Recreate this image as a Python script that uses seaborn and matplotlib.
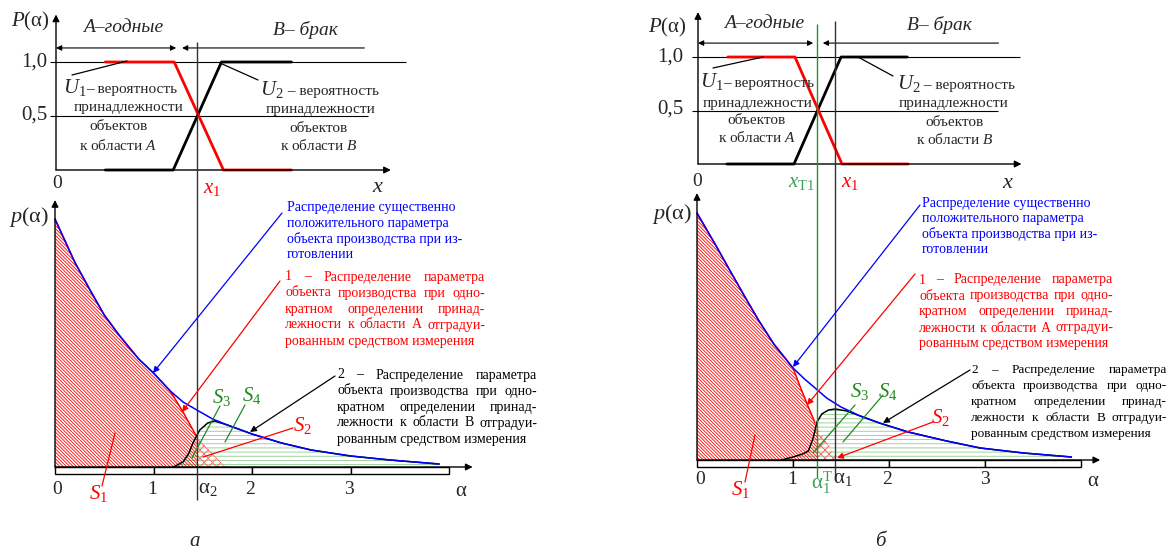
import numpy as np
import matplotlib
matplotlib.use("Agg")
import matplotlib.pyplot as plt
import seaborn as sns

# ---------- данные, рисунок а ----------
left_blue_a = [0, 0.2, 0.35, 0.5, 0.65, 0.85, 1.0, 1.17, 1.3, 1.44, 1.6, 1.75, 2.0, 2.3, 2.6, 3.0, 3.4, 3.9]
left_blue_p = [2.48, 2.05, 1.78, 1.52, 1.32, 1.08, 0.94, 0.76, 0.65, 0.57, 0.48, 0.42, 0.33, 0.24, 0.17, 0.11, 0.07, 0.03]
left_red_a = [0, 0.2, 0.35, 0.5, 0.65, 0.85, 1.0, 1.17, 1.3, 1.44, 1.73]
left_red_p = [2.48, 2.05, 1.78, 1.52, 1.32, 1.08, 0.94, 0.76, 0.55, 0.30, 0.0]
left_black_a = [1.2, 1.3, 1.36, 1.4, 1.47, 1.55, 1.62, 1.75, 2.0, 2.3, 2.6, 3.0, 3.4, 3.9]
left_black_p = [0.0, 0.05, 0.14, 0.24, 0.37, 0.44, 0.46, 0.42, 0.33, 0.24, 0.17, 0.11, 0.07, 0.03]
left_alpha2 = 1.44
left_u1_x = [0.5, 1.2, 1.70, 2.39]
left_u2_x = [0.5, 1.19, 1.68, 2.39]

# ---------- данные, рисунок б ----------
right_blue_a = [0, 0.2, 0.34, 0.5, 0.64, 0.8, 1.0, 1.12, 1.23, 1.35, 1.5, 1.7, 1.9, 2.2, 2.6, 2.95, 3.4, 3.9]
right_blue_p = [2.47, 2.14, 1.90, 1.63, 1.40, 1.16, 0.92, 0.81, 0.72, 0.62, 0.53, 0.44, 0.37, 0.28, 0.19, 0.12, 0.07, 0.03]
right_red_a = [0, 0.2, 0.34, 0.5, 0.64, 0.8, 1.0, 1.08, 1.16, 1.23, 1.25, 1.47]
right_red_p = [2.47, 2.14, 1.90, 1.63, 1.40, 1.16, 0.92, 0.72, 0.53, 0.37, 0.33, 0.0]
right_black_a = [0.88, 1.0, 1.1, 1.16, 1.21, 1.25, 1.3, 1.37, 1.44, 1.56, 1.7, 1.9, 2.2, 2.6, 2.95, 3.4, 3.9]
right_black_p = [0.0, 0.03, 0.06, 0.09, 0.22, 0.38, 0.46, 0.50, 0.51, 0.49, 0.44, 0.37, 0.28, 0.19, 0.12, 0.07, 0.03]
right_alpha_t1 = 1.25
right_alpha1 = 1.44
right_u1_x = [0.31, 1.01, 1.5, 2.19]
right_u2_x = [0.3, 1.0, 1.49, 2.18]

u1_level = [1, 1, 0, 0]
u2_level = [0, 0, 1, 1]
scale_ticks = [0, 1, 2, 3, 4]

blue_text = ["Распределение существенно", "положительного параметра",
             "объекта производства при из-", "готовлении"]
red_text = ["1 – Распределение параметра", "объекта производства при одно-",
            "кратном определении принад-", "лежности к области А отградуи-",
            "рованным средством измерения"]
black_text = ["2 – Распределение параметра", "объекта производства при одно-",
              "кратном определении принад-", "лежности к области В отградуи-",
              "рованным средством измерения"]

RED = "#ff0000"
BLUE = "#0000ff"
GREEN = "#1e8c1e"
GREEN_T = "#3a9f5a"
HATCH_GREEN = "#8fcc8f"

sns.set_style("white")
plt.rcParams["font.family"] = ["Liberation Serif", "DejaVu Serif"]
plt.rcParams["mathtext.fontset"] = "custom"
plt.rcParams["mathtext.rm"] = "Liberation Serif"
plt.rcParams["mathtext.it"] = "Liberation Serif:italic"
plt.rcParams["hatch.linewidth"] = 0.6

W, H = 1168, 555
fig = plt.figure(figsize=(W / 100, H / 100), dpi=100)


def make_ax(box, origin, scale):
    # box в пикселях (лево, верх, право, низ), origin - пиксель точки (0, 0)
    L, T, R, B = box
    ax = fig.add_axes([L / W, 1 - B / H, (R - L) / W, (B - T) / H])
    x0, y0 = origin
    sx, sy = scale
    ax.set_xlim((L - x0) / sx, (R - x0) / sx)
    ax.set_ylim((y0 - B) / sy, (y0 - T) / sy)
    ax.axis("off")
    return ax


def fx(x, y):
    return (x / W, 1 - y / H)


def put(x, y, s, size=14, **kw):
    kw.setdefault("ha", "center")
    kw.setdefault("va", "center")
    return fig.text(x / W, 1 - y / H, s, fontsize=size, **kw)


def seg(p0, p1, color, head=False):
    style = "-|>" if head else "-"
    fig.add_artist(matplotlib.patches.FancyArrowPatch(
        fx(*p0), fx(*p1), transform=fig.transFigure, arrowstyle=style,
        color=color, lw=0.9, mutation_scale=9, shrinkA=0, shrinkB=0))


def paragraph(x, y, lines, color, width=None, step=16, size=10):
    r = fig.canvas.get_renderer()
    for i, line in enumerate(lines):
        yy = y + i * step
        words = line.split()
        if width is None or i == len(lines) - 1:
            put(x, yy, line, size=size, ha="left", color=color)
            continue
        ts = [put(0, yy, w_, size=size, ha="left", color=color) for w_ in words]
        ws = [t.get_window_extent(r).width for t in ts]
        gap = (width - sum(ws)) / (len(words) - 1)
        cx = x
        for t, w_ in zip(ts, ws):
            t.set_x(cx / W)
            cx += w_ + gap


def axis_arrow(ax, start, end):
    ax.annotate("", xy=end, xytext=start,
                arrowprops=dict(arrowstyle="-|>", color="black", lw=1.0,
                                mutation_scale=10, shrinkA=0, shrinkB=0))


def top_panel(ax, u1_x, u2_x, one_end, half_end, x_end, y_end, span_a, span_b, span_end):
    ax.hlines(1.0, -0.06, one_end, color="black", lw=0.8)
    ax.hlines(0.5, -0.06, half_end, color="black", lw=0.8)
    axis_arrow(ax, (0, 0), (x_end, 0))
    axis_arrow(ax, (0, 0), (0, y_end))
    ax.annotate("", xy=(0, 1.13), xytext=(span_a, 1.13),
                arrowprops=dict(arrowstyle="<|-|>", color="black", lw=0.8,
                                mutation_scale=8, shrinkA=0, shrinkB=0))
    ax.annotate("", xy=(span_b, 1.13), xytext=(span_end, 1.13),
                arrowprops=dict(arrowstyle="-|>", color="black", lw=0.8,
                                mutation_scale=8, shrinkA=0, shrinkB=0))
    sns.lineplot(x=u2_x, y=u2_level, ax=ax, color="black", lw=2.0, sort=False, estimator=None)
    sns.lineplot(x=u1_x, y=u1_level, ax=ax, color=RED, lw=2.0, sort=False, estimator=None)


def bottom_panel(ax, blue_a, blue_p, red_a, red_p, black_a, black_p, split, red_line_end, x_end):
    red_a = np.array(red_a)
    red_p = np.array(red_p)
    ax.fill_between(black_a, 0, black_p, facecolor="none", edgecolor=HATCH_GREEN,
                    hatch="----", lw=0)
    ax.fill_between(red_a, 0, red_p, where=red_a <= split, facecolor="none",
                    edgecolor=RED, hatch="\\" * 10, lw=0)
    ax.fill_between(red_a, 0, red_p, where=red_a >= split, facecolor="none",
                    edgecolor="#ff6060", hatch="xxxx", lw=0)
    ax.bar(scale_ticks[:-1], -0.065, width=1, align="edge", color="white",
           edgecolor="black", lw=1.0)
    axis_arrow(ax, (0, 0), (x_end, 0))
    axis_arrow(ax, (0, 0), (0, 2.67))
    keep = red_a <= red_line_end
    sns.lineplot(x=red_a[keep], y=red_p[keep], ax=ax, color=RED, lw=1.1, sort=False, estimator=None)
    sns.lineplot(x=black_a, y=black_p, ax=ax, color="black", lw=1.1, sort=False, estimator=None)
    sns.lineplot(x=blue_a, y=blue_p, ax=ax, color=BLUE, lw=1.1, sort=False, estimator=None)


# ================= рисунок а =================
ax_lt = make_ax((0, 0, 584, 190), (56, 170), (98.5, 108))
top_panel(ax_lt, left_u1_x, left_u2_x, 3.55, 3.17, 3.4, 1.44, 1.22, 1.28, 3.13)
ax_lb = make_ax((0, 190, 584, 555), (55, 467), (98.5, 100))
bottom_panel(ax_lb, left_blue_a, left_blue_p, left_red_a, left_red_p,
             left_black_a, left_black_p, left_alpha2, left_alpha2, 4.24)
ax_lb.vlines(left_alpha2, -0.33, 4.25, color="#333333", lw=1.0, clip_on=False)

put(30, 21, r"$P$(α)", 15)
put(123, 28, "A–годные", 14, style="italic")
put(305, 30, "B– брак", 14, style="italic")
put(47, 62, "1,0", 15, ha="right")
put(47, 115, "0,5", 15, ha="right")
put(57, 184, "0", 14)
put(378, 188, r"$x$", 16)
put(212, 188, r"$x_1$", 15, color=RED)
put(87, 87, r"$U_1$", 15, ha="right")
put(86, 89, "– вероятность", 11, ha="left")
put(129, 107, "принадлежности", 11)
put(119, 127, "объектов", 11)
put(118, 145, r"к области $A$", 11)
put(284, 89, r"$U_2$", 15, ha="right")
put(284, 91, " – вероятность", 11, ha="left")
put(321, 110, "принадлежности", 11)
put(319, 128, "объектов", 11)
put(319, 146, r"к области $B$", 11)
seg((72, 75), (127, 61), "black")
seg((220, 63), (258, 80), "black")

put(29, 217, r"$p$(α)", 16)
put(57, 489, "0", 14)
put(152, 489, "1", 14)
put(208, 488, r"$\mathrm{α}_2$", 15)
put(250, 489, "2", 14)
put(349, 489, "3", 14)
put(461, 491, "α", 15)
put(98, 494, r"$S_1$", 15, color=RED)
put(222, 398, r"$S_3$", 15, color=GREEN)
put(252, 395, r"$S_4$", 15, color=GREEN)
put(302, 425, r"$S_2$", 15, color=RED)
seg((115, 433), (102, 486), RED)
seg((220, 406), (192, 458), GREEN)
seg((245, 405), (225, 442), GREEN)
seg((293, 428), (203, 457), RED)
seg((282, 213), (153, 373), BLUE, head=True)
seg((280, 281), (182, 412), RED, head=True)
seg((335, 376), (250, 432), "black", head=True)
paragraph(287, 207, blue_text, BLUE)
paragraph(285, 277, red_text, RED, width=200)
paragraph(337, 375, black_text, "black", width=200)
put(195, 541, "а", 15, style="italic")

# ================= рисунок б =================
ax_rt = make_ax((584, 0, 1168, 190), (698, 164), (96, 107))
top_panel(ax_rt, right_u1_x, right_u2_x, 3.35, 3.13, 3.37, 1.42, 1.2, 1.3, 3.13)
ax_rb = make_ax((584, 190, 1168, 555), (697, 460), (96, 100))
bottom_panel(ax_rb, right_blue_a, right_blue_p, right_red_a, right_red_p,
             right_black_a, right_black_p, right_alpha_t1, 1.23, 4.2)
ax_rb.vlines(right_alpha_t1, -0.18, 4.36, color="#2e8b2e", lw=1.0, clip_on=False)
ax_rb.vlines(right_alpha1, -0.2, 4.39, color="#333333", lw=1.0, clip_on=False)

put(667, 27, r"$P$(α)", 15)
put(764, 23, "A–годные", 14, style="italic")
put(939, 25, "B– брак", 14, style="italic")
put(683, 57, "1,0", 15, ha="right")
put(683, 109, "0,5", 15, ha="right")
put(697, 182, "0", 14)
put(801, 183, r"$x_{\mathrm{T}1}$", 15, color=GREEN_T)
put(850, 183, r"$x_1$", 15, color=RED)
put(1008, 183, r"$x$", 16)
put(724, 81, r"$U_1$", 15, ha="right")
put(723, 83, "– вероятность", 11, ha="left")
put(758, 103, "принадлежности", 11)
put(757, 120, "объектов", 11)
put(757, 138, r"к области $A$", 11)
put(921, 84, r"$U_2$", 15, ha="right")
put(920, 86, " – вероятность", 11, ha="left")
put(954, 104, "принадлежности", 11)
put(954, 122, "объектов", 11)
put(955, 140, r"к области $B$", 11)
seg((713, 68), (763, 57), "black")
seg((858, 57), (893, 76), "black")

put(672, 214, r"$p$(α)", 16)
put(700, 480, "0", 14)
put(792, 480, "1", 14)
put(822, 483, r"$\mathrm{α}^{\mathrm{T}}_{1}$", 15, color=GREEN_T)
put(843, 478, r"$\mathrm{α}_1$", 15)
put(887, 480, "2", 14)
put(985, 480, "3", 14)
put(1093, 482, "α", 15)
put(740, 489, r"$S_1$", 15, color=RED)
put(860, 392, r"$S_3$", 15, color=GREEN)
put(888, 392, r"$S_4$", 15, color=GREEN)
put(940, 418, r"$S_2$", 15, color=RED)
seg((755, 435), (745, 482), RED)
seg((855, 405), (813, 453), GREEN)
seg((883, 395), (843, 442), GREEN)
seg((933, 422), (837, 458), RED, head=True)
seg((920, 205), (793, 367), BLUE, head=True)
seg((915, 274), (807, 405), RED, head=True)
seg((970, 370), (883, 423), "black", head=True)
paragraph(922, 203, blue_text, BLUE, step=15.5)
paragraph(919, 280, red_text, RED, width=194)
paragraph(971, 370, black_text, "black", width=196, size=9.5)
put(880, 541, "б", 15, style="italic")

fig.savefig("out.png", dpi=100, facecolor="white")
